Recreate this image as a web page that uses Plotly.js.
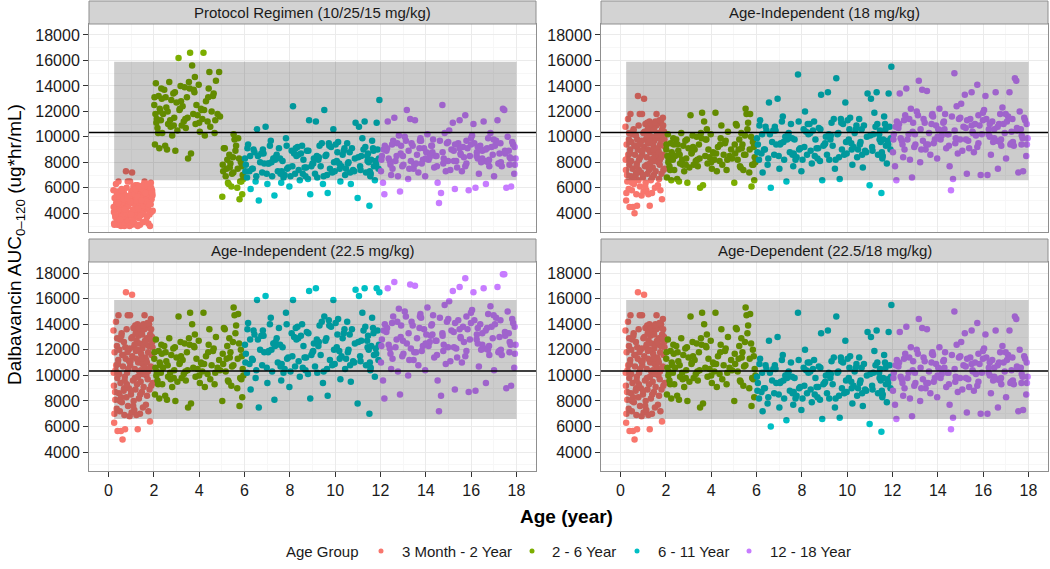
<!DOCTYPE html>
<html>
<head>
<meta charset="utf-8">
<script src="https://cdn.plot.ly/plotly-3.0.1.min.js"></script>
<style>
    html, body { margin: 0; padding: 0; background: #fff; }
    #chart { width: 1050px; height: 569px; }
</style>
</head>
<body>
<div id="chart"></div>
<script>
const GROUP_NAMES = ["3 Month - 2 Year", "2 - 6 Year", "6 - 11 Year", "12 - 18 Year"];
const GROUP_COLORS = ["#F8766D", "#7CAE00", "#00BFC4", "#C77CFF"];

const PANEL_TITLES = [
    "Protocol Regimen (10/25/15 mg/kg)",
    "Age-Independent (18 mg/kg)",
    "Age-Independent (22.5 mg/kg)",
    "Age-Dependent (22.5/18 mg/kg)",
];

// target exposure band and reference line
const TARGET_AGE = [0.25, 18];
const TARGET_AUC = [6600, 15900];
const REFERENCE_AUC = 10340;

// ages of the simulated subjects, one array per age group
const ageRed = [
    0.22, 0.24, 0.25, 0.27, 0.30, 0.31, 0.33, 0.36, 0.37, 0.39,
    0.40, 0.43, 0.44, 0.46, 0.47, 0.50, 0.52, 0.53, 0.55, 0.58,
    0.59, 0.61, 0.62, 0.64, 0.67, 0.68, 0.70, 0.72, 0.73, 0.76,
    0.77, 0.79, 0.80, 0.82, 0.85, 0.86, 0.88, 0.90, 0.91, 0.93,
    0.95, 0.96, 0.99, 1.01, 1.02, 1.04, 1.05, 1.08, 1.10, 1.11,
    1.13, 1.14, 1.16, 1.18, 1.19, 1.21, 1.23, 1.24, 1.26, 1.28,
    1.29, 1.31, 1.32, 1.34, 1.36, 1.37, 1.39, 1.41, 1.42, 1.44,
    1.46, 1.47, 1.49, 1.50, 1.52, 1.54, 1.55, 1.57, 1.59, 1.60,
    1.62, 1.63, 1.65, 1.67, 1.68, 1.70, 1.71, 1.73, 1.75, 1.76,
    1.78, 1.79, 1.81, 1.83, 1.84, 1.86, 1.87, 1.89, 1.90, 1.92,
    0.26, 0.48, 0.69, 0.87, 1.06, 1.22, 1.40, 1.58, 1.74, 1.93,
    0.34, 0.56, 0.74, 0.97, 1.17, 1.33, 1.51, 1.66, 1.82, 1.95,
    0.23, 0.38, 0.51, 0.66, 0.81, 0.94, 1.09, 1.25, 1.43, 1.61,
    0.29, 0.42, 0.57, 0.71, 0.84, 1.00, 1.15, 1.30, 1.48, 1.69,
    1.20, 1.27, 1.35, 1.45, 1.53, 1.64, 1.72, 1.80, 1.88, 1.94,
];
const ageGreen = [
    2.02, 2.05, 2.09, 2.13, 2.16, 2.21, 2.24, 2.28, 2.33, 2.37,
    2.41, 2.46, 2.50, 2.55, 2.58, 2.63, 2.68, 2.72, 2.77, 2.81,
    2.86, 2.90, 2.95, 3.00, 3.04, 3.09, 3.13, 3.18, 3.23, 3.27,
    3.32, 3.36, 3.41, 3.46, 3.51, 3.55, 3.60, 3.64, 3.69, 3.74,
    3.79, 3.84, 3.88, 3.93, 3.98, 4.03, 4.08, 4.14, 4.19, 4.25,
    4.30, 4.37, 4.42, 4.49, 4.55, 4.61, 4.68, 4.74, 4.81, 4.88,
    5.02, 5.09, 5.17, 5.24, 5.30, 5.38, 5.45, 5.52, 5.60, 5.68,
    5.06, 5.13, 5.35, 5.42, 5.56, 5.72, 5.78, 5.84, 5.90, 5.95,
    2.07, 2.19, 2.52, 2.93, 3.39, 3.81, 4.22, 4.64, 5.21, 5.81,
    2.03, 2.31, 2.74, 3.15, 3.58, 4.00, 4.45, 4.92, 5.49, 5.88,
    2.11, 2.35, 2.61, 2.88, 3.20, 3.49, 3.76, 4.11, 4.40, 4.71,
    5.04, 5.27, 5.33, 5.51, 5.63, 5.70, 5.76, 5.86, 5.92, 2.26,
];
const ageCyan = [
    6.02, 6.11, 6.16, 6.27, 6.33, 6.40, 6.49, 6.55, 6.63, 6.69,
    6.78, 6.84, 6.93, 7.01, 7.07, 7.16, 7.22, 7.32, 7.37, 7.47,
    7.52, 7.62, 7.68, 7.77, 7.83, 7.93, 7.98, 8.08, 8.14, 8.23,
    8.29, 8.39, 8.44, 8.54, 8.60, 8.69, 8.75, 8.85, 8.90, 9.00,
    9.06, 9.15, 9.21, 9.31, 9.36, 9.46, 9.52, 9.61, 9.67, 9.77,
    9.82, 9.92, 9.98, 10.07, 10.13, 10.23, 10.28, 10.38, 10.44, 10.53,
    10.59, 10.69, 10.74, 10.84, 10.90, 10.99, 11.05, 11.15, 11.20, 11.30,
    11.36, 11.45, 11.51, 11.59, 11.63, 11.71, 11.75, 11.83, 11.87, 11.95,
    6.06, 6.44, 6.98, 7.42, 7.88, 8.34, 8.80, 9.26, 9.72, 10.18,
    10.64, 11.10, 11.41, 11.55, 11.67, 11.79, 11.91, 6.22, 6.59, 7.12,
    7.57, 8.03, 8.49, 8.95, 9.41, 9.87, 10.33, 10.79, 11.25, 11.48,
    6.13, 6.87, 7.27, 7.72, 8.19, 8.65, 9.11, 9.57, 10.02, 10.48,
    6.04, 6.25, 6.52, 6.81, 7.04, 7.35, 7.59, 7.86, 8.11, 8.37,
    8.57, 8.82, 9.03, 9.28, 9.49, 9.74, 9.95, 10.20, 10.41, 10.66,
    10.87, 11.12, 11.33, 11.43, 11.57, 11.69, 11.81, 11.93, 6.37, 6.74,
    7.19, 7.64, 8.26, 8.72, 9.19, 9.64, 10.10, 10.56, 11.02, 11.53,
];
const agePurple = [
    12.02, 12.11, 12.17, 12.26, 12.32, 12.41, 12.47, 12.56, 12.61, 12.71,
    12.77, 12.86, 12.91, 13.01, 13.07, 13.16, 13.22, 13.31, 13.37, 13.46,
    13.52, 13.61, 13.67, 13.76, 13.82, 13.92, 13.97, 14.07, 14.12, 14.22,
    14.27, 14.37, 14.43, 14.52, 14.58, 14.67, 14.73, 14.83, 14.88, 14.98,
    15.03, 15.13, 15.19, 15.28, 15.34, 15.43, 15.49, 15.59, 15.64, 15.74,
    15.79, 15.89, 15.94, 16.04, 16.10, 16.19, 16.25, 16.34, 16.40, 16.49,
    16.55, 16.65, 16.70, 16.80, 16.85, 16.95, 17.01, 17.10, 17.16, 17.25,
    17.31, 17.40, 17.46, 17.55, 17.61, 17.70, 17.76, 17.85, 17.90, 17.96,
    12.06, 12.51, 12.96, 13.42, 13.87, 14.32, 14.77, 15.23, 15.68, 16.14,
    16.59, 17.05, 17.50, 17.93, 12.14, 12.66, 13.12, 13.57, 14.02, 14.47,
    14.93, 15.38, 15.84, 16.29, 16.75, 17.20, 17.66, 12.36, 12.81, 13.27,
    13.72, 14.17, 14.62, 15.08, 15.53, 15.99, 16.44, 16.90, 17.35, 17.81,
    12.04, 12.29, 12.53, 12.74, 12.99, 13.24, 13.49, 13.74, 13.99, 14.24,
    14.49, 14.74, 14.99, 15.24, 15.49, 15.74, 15.99, 16.24, 16.49, 16.74,
    16.99, 17.24, 17.49, 17.74, 17.92, 12.19, 12.44, 12.89, 13.34, 13.79,
    14.29, 14.79, 15.29, 15.79, 16.29, 16.79, 17.29, 17.69, 15.54, 16.64,
];

// AUC 0-120 (ug*hr/mL), protocol regimen 10/25/15 mg/kg
const aucProtocolRed = [
    5800, 4100, 3200, 5200, 3700, 4600, 6300, 3300, 5500, 4300,
    3100, 4900, 6500, 3800, 4500, 3200, 5700, 4200, 3000, 5900,
    3500, 5100, 3100, 4700, 3900, 5600, 3000, 4400, 3300, 5000,
    7300, 3700, 6000, 4500, 6500, 3400, 5300, 4000, 4900, 3000,
    6500, 4800, 3800, 5700, 3100, 7200, 5100, 4300, 6100, 3600,
    5400, 3200, 4700, 6200, 3900, 5300, 3100, 5600, 4100, 6200,
    3000, 4900, 5800, 3600, 4600, 5500, 3100, 6100, 4200, 5200,
    5900, 3900, 5400, 4800, 3300, 6200, 4000, 5500, 6500, 4700,
    5000, 6100, 3400, 4400, 5700, 3700, 6200, 4300, 5200, 3200,
    5500, 6200, 3900, 3000, 5900, 4700, 6400, 4100, 5100, 5800,
    3100, 5300, 4000, 4600, 5800, 5000, 3800, 6000, 4500, 5600,
    4800, 3700, 5400, 4900, 4300, 6000, 4500, 5000, 5700, 4200,
    4500, 5700, 3500, 5100, 4100, 5400, 3400, 6000, 4600, 5600,
    3900, 4800, 5800, 4300, 5200, 3900, 5500, 4400, 5900, 4900,
    5900, 5300, 6100, 5000, 6200, 5600, 6300, 4700, 6000, 5400,
];
const aucProtocolGreen = [
    12500, 9400, 14200, 11400, 10700, 13200, 9100, 12000, 13800, 10300,
    11800, 13700, 9300, 12300, 9000, 11000, 14300, 11300, 12900, 10100,
    13400, 11500, 8900, 12700, 10500, 16200, 12100, 14000, 10900, 12400,
    11200, 13900, 10700, 13100, 8300, 14300, 16600, 8700, 15600, 11800,
    13500, 11000, 12500, 11700, 14100, 10400, 12200, 11400, 16600, 10100,
    12800, 11200, 13800, 10800, 12000, 13200, 10300, 14400, 11800, 15100,
    5300, 9100, 6900, 8200, 6300, 7900, 7100, 10200, 8900, 6000,
    7300, 9100, 7600, 6100, 9800, 9900, 5100, 8000, 5500, 6700,
    11800, 10300, 13100, 13500, 11400, 14700, 12100, 13400, 7500, 6500,
    13100, 11300, 10800, 12200, 13800, 11100, 15100, 11600, 8400, 7700,
    11100, 13000, 12000, 10900, 12800, 11500, 13700, 12100, 13100, 11300,
    7800, 6400, 8600, 7200, 9300, 7500, 8300, 6500, 7000, 12200,
];
const aucProtocolCyan = [
    8300, 6800, 9400, 5900, 7500, 9000, 6500, 10600, 5000, 8000,
    7200, 8700, 10800, 6300, 7900, 9700, 6900, 5400, 8400, 7300,
    9100, 6400, 8100, 7000, 9900, 7600, 6100, 8900, 12400, 7100,
    8500, 7400, 6600, 9300, 8200, 6900, 8900, 11300, 5500, 7900,
    8300, 11200, 6800, 9300, 7700, 6300, 12100, 8600, 5600, 7500,
    9200, 10600, 7300, 8100, 9600, 6500, 7700, 8900, 7000, 9500,
    8000, 6300, 9100, 7300, 11100, 5200, 10800, 8500, 9900, 11200,
    7200, 8700, 4600, 8200, 9700, 7700, 6600, 11100, 9000, 12900,
    7800, 8800, 7100, 8600, 7500, 9200, 6700, 8200, 9500, 7900,
    8800, 7700, 8500, 6900, 9100, 8100, 7500, 7300, 8500, 9300,
    8300, 6900, 8700, 7700, 9500, 7200, 8600, 7400, 9000, 8000,
    9100, 7900, 8300, 6800, 8700, 7600, 7100, 8500, 9400, 7500,
    7300, 8500, 6900, 9000, 7900, 8200, 7100, 9300, 7700, 8600,
    7100, 8900, 7900, 8400, 6900, 9300, 8000, 7500, 9100, 7200,
    8300, 7400, 9200, 8100, 7100, 8900, 7800, 8300, 7500, 8700,
    8000, 7300, 9100, 7600, 8500, 7000, 8800, 7900, 8400, 7300,
];
const aucProtocolPurple = [
    7300, 6400, 5500, 8900, 11200, 8100, 7000, 9700, 11500, 8500,
    6900, 5700, 9300, 7800, 10000, 12100, 6700, 11400, 9500, 7500,
    11300, 8600, 7200, 9900, 7900, 9100, 6900, 10200, 8200, 8700,
    9300, 7600, 8500, 6400, 4800, 5600, 12500, 10300, 7300, 8100,
    10500, 9000, 11100, 5900, 8100, 9500, 11300, 7300, 9200, 11700,
    9700, 5800, 8500, 10100, 11000, 6000, 8800, 7100, 9300, 8300,
    11200, 6300, 9100, 7700, 10300, 8600, 6900, 9700, 11300, 8700,
    8000, 12200, 12100, 6000, 10000, 8400, 6100, 9400, 7100, 8300,
    8500, 9400, 7700, 9300, 8200, 9800, 7900, 8900, 8400, 9500,
    8100, 9300, 8700, 7800, 9000, 8100, 9700, 7900, 8800, 8500,
    9500, 7600, 9100, 8300, 9900, 7900, 8900, 8300, 10100, 7500,
    9100, 8400, 9700, 7400, 8700, 9900, 8000, 9200, 7700, 9600,
    8200, 9100, 7500, 9500, 8500, 8900, 7800, 9700, 8300, 9300,
    7700, 8800, 9600, 8100, 9100, 7700, 9400, 8500, 8900, 8000,
    9800, 7900, 8900, 8300, 9200, 9300, 7800, 8700, 8100, 9700,
    8800, 8300, 9400, 7900, 9200, 8200, 9500, 7800, 8600, 9000,
];

// AUC 0-120 (ug*hr/mL), 18 mg/kg
const auc18Red = [
    10800, 7400, 5000, 9400, 6500, 8300, 11400, 5900, 9800, 7800,
    4500, 9000, 11800, 6900, 8100, 5800, 10200, 7500, 4500, 10600,
    6300, 9300, 4000, 8600, 7000, 10100, 5500, 7900, 4600, 9000,
    13200, 6600, 10900, 8200, 11800, 6100, 9600, 7200, 8900, 5400,
    11800, 8600, 6800, 10300, 5700, 13000, 9200, 7700, 11000, 6400,
    9800, 5800, 8400, 11100, 7100, 9500, 5500, 10200, 7400, 11200,
    4600, 8800, 10500, 6600, 8200, 10000, 5600, 11000, 7600, 9400,
    10700, 7000, 9700, 8700, 6000, 11200, 7300, 9900, 11800, 8500,
    9100, 11000, 6200, 8000, 10300, 6700, 11100, 7800, 9400, 5800,
    9800, 11200, 7100, 5100, 10600, 8600, 11500, 7400, 9300, 10400,
    5600, 9600, 7200, 8400, 10400, 9000, 6800, 10900, 8200, 10100,
    8600, 6600, 9800, 8900, 7800, 10800, 8100, 9000, 10200, 7500,
    8200, 10300, 6400, 9300, 7400, 9700, 6100, 10700, 8300, 10200,
    7000, 8700, 10500, 7700, 9400, 7000, 9900, 7900, 10600, 8800,
    10600, 9600, 11000, 9000, 11100, 10100, 11300, 8400, 10900, 9800,
];
const auc18Green = [
    9000, 6800, 10200, 8200, 7700, 9500, 6600, 8600, 9900, 7400,
    8500, 9800, 6700, 8900, 6500, 7900, 10300, 8200, 9300, 7300,
    9700, 8300, 6400, 9100, 7600, 11700, 8700, 10100, 7800, 9000,
    8100, 10000, 7700, 9400, 6000, 10300, 11900, 6200, 11200, 8500,
    9800, 7900, 9000, 8400, 10200, 7500, 8800, 8200, 11900, 7300,
    9200, 8100, 9900, 7800, 8600, 9500, 7400, 10400, 8500, 9000,
    6400, 11000, 8200, 9800, 7600, 9400, 8600, 12200, 10600, 7200,
    8700, 10900, 9100, 7400, 11800, 11800, 6100, 9600, 6600, 8000,
    8500, 7400, 9400, 9800, 8200, 10600, 8700, 9700, 9000, 7800,
    9400, 8200, 7800, 8800, 9900, 8000, 10900, 8300, 10100, 9200,
    8000, 9400, 8600, 7800, 9200, 8300, 9800, 8700, 9400, 8200,
    9400, 7700, 10300, 8600, 11100, 9000, 10000, 7800, 8400, 8800,
];
const auc18Cyan = [
    9900, 8200, 11300, 7200, 9000, 10800, 7800, 12700, 6000, 9600,
    8600, 10500, 13000, 7500, 9500, 11600, 8200, 6500, 10100, 8800,
    11000, 7700, 9800, 8400, 14900, 9100, 7300, 10600, 12000, 8600,
    10200, 8900, 7900, 11200, 9800, 8300, 10700, 13300, 6600, 9400,
    10000, 13500, 8200, 11100, 9300, 7500, 14600, 10300, 6700, 9000,
    11000, 12700, 8700, 9800, 11500, 7800, 9200, 10600, 8400, 11400,
    9600, 7600, 10900, 8800, 13400, 6200, 13000, 10200, 11900, 13500,
    8600, 10500, 5600, 9800, 11600, 9300, 7900, 13400, 10800, 15500,
    9400, 10500, 8500, 10300, 9000, 11000, 8100, 9800, 11400, 9500,
    10600, 9200, 10200, 8300, 11000, 9700, 9000, 8700, 10200, 11200,
    9900, 8200, 10500, 9300, 11400, 8600, 10300, 8900, 10800, 9600,
    10900, 9400, 10000, 8200, 10400, 9100, 8600, 10200, 11300, 9000,
    8800, 10200, 8300, 10800, 9400, 9800, 8600, 11200, 9200, 10300,
    8500, 10600, 9500, 10100, 8200, 11100, 9600, 9000, 10900, 8600,
    10000, 8900, 11000, 9800, 8500, 10600, 9400, 9900, 9000, 10500,
    9600, 8700, 11000, 9100, 10200, 8400, 10600, 9400, 10100, 8800,
];
const auc18Purple = [
    8800, 7700, 6600, 10700, 13400, 9700, 8400, 11700, 13800, 10200,
    8200, 6800, 11100, 9400, 12000, 14400, 8000, 13700, 11400, 9000,
    13600, 10300, 8600, 11800, 9500, 10900, 8300, 12200, 9800, 10500,
    11200, 9100, 10200, 7700, 5800, 6700, 15000, 12400, 8700, 9800,
    12600, 10800, 13300, 7100, 9700, 11400, 13500, 8800, 11000, 14100,
    11700, 7000, 10200, 12100, 13200, 7000, 10600, 8600, 11200, 9900,
    13500, 7500, 11000, 9300, 12300, 10300, 8300, 11600, 13500, 10400,
    9600, 14600, 14400, 7200, 12000, 10100, 7300, 11300, 8500, 9900,
    10200, 11300, 9200, 11100, 9800, 11800, 9500, 10700, 10100, 11400,
    9700, 11200, 10500, 9400, 10800, 9800, 11700, 9400, 10600, 10200,
    11400, 9100, 10900, 10000, 11800, 9400, 10600, 9900, 12200, 9000,
    11000, 10100, 11600, 8900, 10400, 11900, 9600, 11000, 9300, 11500,
    9800, 11000, 9000, 11400, 10200, 10600, 9400, 11700, 10000, 11100,
    9300, 10500, 11500, 9800, 10900, 9200, 11300, 10200, 10600, 9600,
    11800, 9500, 10700, 9900, 11000, 11200, 9400, 10400, 9700, 11600,
    10600, 9900, 11300, 9500, 11000, 9800, 11400, 9400, 10300, 10800,
];

// AUC 0-120 (ug*hr/mL), 22.5 mg/kg
const auc225Red = [
    13500, 9200, 6300, 11800, 8100, 10400, 14200, 7400, 12300, 9800,
    5650, 11200, 14700, 8600, 10100, 7200, 12800, 9400, 5650, 13300,
    7900, 11600, 5000, 10700, 8800, 12600, 6900, 9900, 5800, 11300,
    16500, 8300, 13600, 10200, 14700, 7600, 12000, 9000, 11100, 6800,
    14700, 10800, 8500, 12900, 7100, 16300, 11500, 9600, 13700, 8000,
    12200, 7300, 10500, 13900, 8900, 11900, 6900, 12700, 9300, 14000,
    5800, 11000, 13100, 8200, 10300, 12500, 7000, 13800, 9500, 11700,
    13400, 8700, 12100, 10900, 7500, 14000, 9100, 12400, 14700, 10600,
    11400, 13700, 7700, 10000, 12900, 8400, 13900, 9700, 11800, 7200,
    12300, 14000, 8900, 6400, 13200, 10700, 14400, 9200, 11600, 13000,
    7000, 12000, 9000, 10500, 13000, 11300, 8500, 13600, 10300, 12600,
    10800, 8300, 12200, 11100, 9800, 13500, 10100, 11200, 12800, 9400,
    10200, 12900, 8000, 11600, 9300, 12100, 7600, 13400, 10400, 12700,
    8700, 10900, 13100, 9600, 11800, 8800, 12400, 9900, 13200, 11000,
    13300, 12000, 13700, 11300, 13900, 12600, 14100, 10500, 13600, 12200,
];
const auc225Green = [
    11300, 8500, 12800, 10300, 9600, 11900, 8200, 10800, 12400, 9300,
    10600, 12300, 8400, 11100, 8100, 9900, 12900, 10200, 11600, 9100,
    12100, 10400, 8000, 11400, 9500, 14600, 10900, 12600, 9800, 11200,
    10100, 12500, 9600, 11800, 7500, 12900, 14900, 7800, 14000, 10600,
    12200, 9900, 11300, 10500, 12700, 9400, 11000, 10300, 14900, 9100,
    11500, 10100, 12400, 9700, 10800, 11900, 9300, 13000, 10600, 11200,
    8000, 13700, 10300, 12300, 9500, 11800, 10700, 15300, 13300, 9000,
    10900, 13600, 11400, 9200, 14700, 14800, 7600, 12000, 8300, 10000,
    10600, 9300, 11800, 12200, 10300, 13200, 10900, 12100, 11300, 9800,
    11800, 10200, 9700, 11000, 12400, 10000, 13600, 10400, 12600, 11500,
    10000, 11700, 10800, 9800, 11500, 10400, 12300, 10900, 11800, 10200,
    11700, 9600, 12900, 10800, 13900, 11300, 12500, 9700, 10500, 11000,
];
const auc225Cyan = [
    12400, 10200, 14100, 8900, 11300, 13500, 9800, 15900, 7500, 12000,
    10800, 13100, 16200, 9400, 11900, 14500, 10300, 8100, 12600, 11000,
    13700, 9600, 12200, 10500, 14900, 11400, 9100, 13300, 15900, 10700,
    12800, 11100, 9900, 14000, 12300, 10400, 13400, 16600, 8200, 11800,
    12500, 16800, 10200, 13900, 11600, 9400, 14600, 12900, 8400, 11200,
    13800, 15900, 10900, 12200, 14400, 9700, 11500, 13300, 10500, 14200,
    12000, 9500, 13600, 11000, 16700, 7800, 16200, 12700, 14900, 16800,
    10800, 13100, 7000, 12300, 14500, 11600, 9900, 16800, 13500, 16500,
    11700, 13200, 10600, 12900, 11300, 13800, 10100, 12300, 14300, 11900,
    13200, 11500, 12700, 10400, 13700, 12100, 11200, 10900, 12800, 14000,
    12400, 10300, 13100, 11600, 14200, 10800, 12900, 11100, 13500, 12000,
    13600, 11800, 12500, 10200, 13000, 11400, 10700, 12700, 14100, 11300,
    11000, 12800, 10400, 13500, 11800, 12300, 10700, 14000, 11500, 12900,
    10600, 13300, 11900, 12600, 10300, 13900, 12000, 11300, 13600, 10800,
    12500, 11100, 13800, 12200, 10600, 13300, 11700, 12400, 11200, 13100,
    12000, 10900, 13700, 11400, 12800, 10500, 13200, 11800, 12600, 11000,
];
const auc225Purple = [
    11000, 9600, 8200, 13400, 16800, 12100, 10500, 14600, 17300, 12800,
    10300, 8500, 13900, 11700, 15000, 12500, 10000, 17100, 14200, 11200,
    17000, 12900, 10800, 14800, 11900, 13600, 10400, 15300, 12300, 13100,
    14000, 11400, 12700, 9600, 7200, 8400, 13300, 15500, 10900, 12200,
    15800, 13500, 16600, 8900, 12100, 14300, 16900, 11000, 13800, 17600,
    14600, 8700, 12800, 15100, 16500, 8800, 13200, 10700, 14000, 12400,
    16800, 9400, 13700, 11600, 15400, 12900, 10400, 14500, 16900, 13000,
    12000, 17900, 17900, 9000, 15000, 12600, 9200, 14100, 10600, 12400,
    12800, 14100, 11500, 13900, 12300, 14700, 11900, 13400, 12600, 14300,
    12100, 14000, 13100, 11700, 13500, 12200, 14600, 11800, 13200, 12700,
    14200, 11400, 13600, 12500, 14800, 11800, 13300, 12400, 15200, 11200,
    13700, 12600, 14500, 11100, 13000, 14900, 12000, 13800, 11600, 14400,
    12300, 13700, 11300, 14200, 12700, 13300, 11800, 14600, 12500, 13900,
    11600, 13100, 14400, 12200, 13600, 11500, 14100, 12800, 13300, 12000,
    14700, 11900, 13400, 12400, 13800, 14000, 11700, 13000, 12100, 14500,
    13200, 12400, 14100, 11900, 13700, 12300, 14300, 11800, 12900, 13500,
];

const X_TICKS = [0, 2, 4, 6, 8, 10, 12, 14, 16, 18];
const Y_TICKS = [4000, 6000, 8000, 10000, 12000, 14000, 16000, 18000];

const AGES = [ageRed, ageGreen, ageCyan, agePurple];
const PANEL_AUCS = [
    [aucProtocolRed, aucProtocolGreen, aucProtocolCyan, aucProtocolPurple],
    [auc18Red, auc18Green, auc18Cyan, auc18Purple],
    [auc225Red, auc225Green, auc225Cyan, auc225Purple],
    // age-dependent: 22.5 mg/kg under 6 years, 18 mg/kg from 6 years
    [auc225Red, auc225Green, auc18Cyan, auc18Purple],
];

const FONT = "Liberation Sans, Arial, Helvetica, sans-serif";
const W = 1050, H = 569;
// panel boxes in pixels
const COLS = [[89, 536], [601, 1048]];
const ROWS = [[24, 232], [262, 471]];
const STRIP_H = 23;
// legend row: key centre and label start, in pixels
const LEGEND_Y = 551;
const LEGEND_KEYS = [[381, 400], [532, 550], [637, 656], [749, 768]];

const px = (v) => v / W;
const py = (v) => 1 - v / H;

function axisBase() {
    return {
        showline: true, mirror: true, linecolor: "#8f8f8f", linewidth: 1,
        showgrid: true, gridcolor: "#EBEBEB", gridwidth: 1,
        zeroline: false,
        ticks: "outside", ticklen: 5, tickwidth: 1, tickcolor: "#333",
        tickfont: { family: FONT, size: 16, color: "#1a1a1a" },
        fixedrange: true,
    };
}

function buildChart() {
    const traces = [];
    const shapes = [];
    const annotations = [];
    const layout = {
        width: W, height: H,
        margin: { t: 0, b: 0, l: 0, r: 0 },
        paper_bgcolor: "#fff",
        plot_bgcolor: "#fff",
        font: { family: FONT, size: 15, color: "#1a1a1a" },
        showlegend: false,
    };

    PANEL_TITLES.forEach((title, p) => {
        const col = p % 2;
        const row = Math.floor(p / 2);
        const n = p + 1;
        const xId = n === 1 ? "x" : "x" + n;
        const yId = n === 1 ? "y" : "y" + n;
        const [left, right] = COLS[col];
        const [top, bottom] = ROWS[row];

        layout[n === 1 ? "xaxis" : "xaxis" + n] = {
            ...axisBase(),
            domain: [px(left), px(right)],
            anchor: yId,
            range: [-0.86, 18.86],
            tickmode: "array", tickvals: X_TICKS,
            minor: { tickmode: "linear", tick0: 1, dtick: 2, showgrid: true, gridcolor: "#F7F7F7", ticks: "" },
            showticklabels: row === 1,
            ticks: row === 1 ? "outside" : "",
        };
        layout[n === 1 ? "yaxis" : "yaxis" + n] = {
            ...axisBase(),
            domain: [py(bottom), py(top)],
            anchor: xId,
            range: [2530, 18860],
            tickmode: "array", tickvals: Y_TICKS, tickformat: "d",
            minor: { tickmode: "linear", tick0: 3000, dtick: 2000, showgrid: true, gridcolor: "#F7F7F7", ticks: "" },
        };

        PANEL_AUCS[p].forEach((auc, g) => {
            traces.push({
                type: "scatter", mode: "markers",
                x: AGES[g], y: auc,
                xaxis: xId, yaxis: yId,
                name: GROUP_NAMES[g],
                marker: { color: GROUP_COLORS[g], size: 6.5, line: { width: 0 } },
                hoverinfo: "skip",
            });
        });

        // target band, drawn over the points like the original
        shapes.push({
            type: "rect", xref: xId, yref: yId, layer: "above",
            x0: TARGET_AGE[0], x1: TARGET_AGE[1], y0: TARGET_AUC[0], y1: TARGET_AUC[1],
            fillcolor: "rgba(0,0,0,0.2)", line: { width: 0 },
        });
        shapes.push({
            type: "line", xref: xId + " domain", yref: yId, layer: "above",
            x0: 0, x1: 1, y0: REFERENCE_AUC, y1: REFERENCE_AUC,
            line: { color: "#000", width: 1.5 },
        });

        // facet strip
        shapes.push({
            type: "rect", xref: "paper", yref: "paper",
            x0: px(left), x1: px(right), y0: py(top), y1: py(top - STRIP_H),
            fillcolor: "#D3D3D3", line: { color: "#8f8f8f", width: 1 },
        });
        annotations.push({
            xref: "paper", yref: "paper",
            x: px((left + right) / 2), y: py(top - STRIP_H / 2),
            xanchor: "center", yanchor: "middle",
            text: title, showarrow: false,
            font: { size: 15, color: "#1a1a1a" },
        });
    });

    // legend row, laid out like the ggplot guide
    annotations.push({
        xref: "paper", yref: "paper",
        x: px(284), y: py(LEGEND_Y), xanchor: "left", yanchor: "middle",
        text: "Age Group", showarrow: false,
        font: { size: 15, color: "#1a1a1a" },
    });
    GROUP_NAMES.forEach((name, g) => {
        const [keyX, textX] = LEGEND_KEYS[g];
        shapes.push({
            type: "circle", xref: "paper", yref: "paper",
            xsizemode: "pixel", ysizemode: "pixel",
            xanchor: px(keyX), yanchor: py(LEGEND_Y),
            x0: -2.5, x1: 2.5, y0: -2.5, y1: 2.5,
            fillcolor: GROUP_COLORS[g], line: { width: 0 },
        });
        annotations.push({
            xref: "paper", yref: "paper",
            x: px(textX), y: py(LEGEND_Y), xanchor: "left", yanchor: "middle",
            text: name, showarrow: false,
            font: { size: 15, color: "#1a1a1a" },
        });
    });

    annotations.push({
        xref: "paper", yref: "paper",
        x: px(566), y: py(516), xanchor: "center", yanchor: "middle",
        text: "<b>Age (year)</b>", showarrow: false,
        font: { size: 19, color: "#000" },
    });
    annotations.push({
        xref: "paper", yref: "paper",
        x: px(16), y: py(245), xanchor: "center", yanchor: "middle",
        textangle: -90,
        text: "Dalbavancin AUC<sub>0–120</sub> (ug*hr/mL)", showarrow: false,
        font: { size: 19, color: "#000" },
    });

    layout.shapes = shapes;
    layout.annotations = annotations;

    Plotly.newPlot("chart", traces, layout, { displayModeBar: false, responsive: false });
}

buildChart();
</script>
</body>
</html>
